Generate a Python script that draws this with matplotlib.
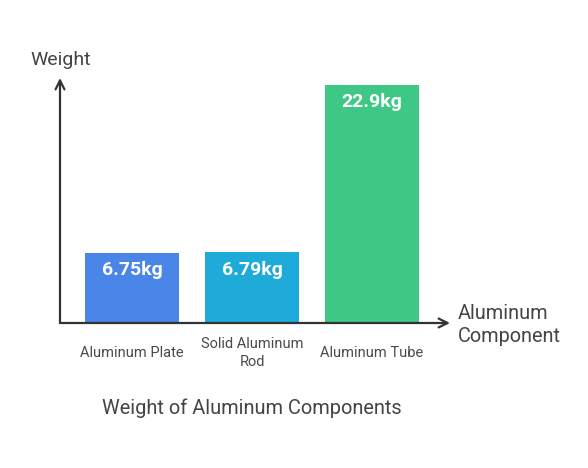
import matplotlib.pyplot as plt

plt.rcParams['font.family'] = ['Roboto', 'DejaVu Sans']

components = ['Aluminum Plate', 'Solid Aluminum\nRod', 'Aluminum Tube']
weights = [6.75, 6.79, 22.9]
labels = ['6.75kg', '6.79kg', '22.9kg']
colors = ['#4A86E8', '#1FABDA', '#3EC785']

W, H = 588, 468
fig = plt.figure(figsize=(W / 100, H / 100), dpi=100)

# axes placed in pixel terms: origin at (60, 323), arrows end near x=450 / y=78
x0, y0, x1, y1 = 60, 323, 450, 78
ax = fig.add_axes([x0 / W, (H - y0) / H, (x1 - x0) / W, (y0 - y1) / H])

px_per_cat = 120
px_per_kg = 238 / 22.9
ax.set_xlim((x0 - 132) / px_per_cat, (x1 - 132) / px_per_cat)
ax.set_ylim(0, (y0 - y1) / px_per_kg)

pos = list(range(len(components)))
ax.bar(pos, weights, width=94 / px_per_cat, color=colors, zorder=2)

for p, w, lab in zip(pos, weights, labels):
    ax.annotate(lab, (p, w), xytext=(0, -12.5), textcoords='offset points',
                ha='center', va='center', color='white', fontsize=14,
                fontweight='semibold')

for s in ax.spines.values():
    s.set_visible(False)
ax.set_xticks([])
ax.set_yticks([])

axis_col = '#333333'
ax.annotate('', xy=(1, 0), xytext=(0, 0), xycoords='axes fraction',
            arrowprops=dict(arrowstyle='->', color=axis_col, lw=1.6,
                            mutation_scale=16, shrinkA=0, shrinkB=0), zorder=3)
ax.annotate('', xy=(0, 1), xytext=(0, 0), xycoords='axes fraction',
            arrowprops=dict(arrowstyle='->', color=axis_col, lw=1.6,
                            mutation_scale=16, shrinkA=0, shrinkB=0), zorder=3)

for p, name in zip(pos, components):
    ax.text(p, -30 / px_per_kg, name, ha='center', va='center',
            fontsize=10.5, color='#4a4a4a', linespacing=1.35)

fig.text(30 / W, 1 - 60 / H, 'Weight', ha='left', va='center',
         fontsize=14, color='#444444')
fig.text(458 / W, 1 - 325 / H, 'Aluminum\nComponent', ha='left',
         va='center', fontsize=14.3, color='#444444', linespacing=1.3)
fig.text(252 / W, 1 - 408 / H, 'Weight of Aluminum Components',
         ha='center', va='center', fontsize=14.4, color='#444444')

fig.savefig('out.png', dpi=100, facecolor='white')
